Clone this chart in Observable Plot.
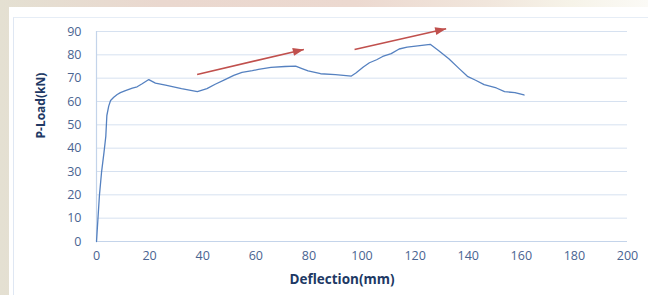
<!DOCTYPE html>
<html>
<head>
<meta charset="utf-8">
<script src="https://cdn.jsdelivr.net/npm/d3@7"></script>
<script src="https://cdn.jsdelivr.net/npm/@observablehq/plot@0.6"></script>
<style>
  html, body { margin: 0; padding: 0; }
  body { width: 648px; height: 295px; overflow: hidden; position: relative;
    background: linear-gradient(90deg, #e4e0d2 0%, #ead8cf 25%, #ecd9d0 55%, #f1e6dc 75%, #f6f3e8 88%, #fbfaf6 100%); }
  #panel { position: absolute; left: 9px; top: 7px; right: 0; bottom: 0; background: #ffffff; }
  #inner { position: absolute; left: 13px; top: 17px; right: 0; bottom: 0; border-left: 1px solid #dfe7f3; border-top: 1px solid #e6edf6; }
  #chart { position: absolute; left: 0; top: 0; }
</style>
</head>
<body>
<div id="panel"></div>
<div id="inner"></div>
<div id="chart"></div>
<script>
const deflection = [0,1.1,1.9,2.8,3.5,3.9,4.6,5.3,6.5,7.8,9,10.9,13.5,15.3,17.2,19.7,22.2,26,32,38,41.6,44.7,48.6,51.7,54.8,58.7,61,65.7,71,75,77.4,79.7,84.4,90,96,97.7,100.5,102.8,105.5,107.8,111,114,117,121,125.7,128.8,132.7,136.6,139.7,142.8,146,150.6,153.7,157.6,161];
const load = [0,19.7,29.7,38,45,54,58,60.4,61.8,63,63.8,64.7,65.7,66.3,67.6,69.4,67.9,67,65.5,64.2,65.5,67.4,69.5,71.2,72.5,73.2,73.8,74.6,75,75.2,74.1,73.1,71.9,71.5,70.9,72.2,74.8,76.6,77.9,79.3,80.5,82.5,83.3,83.8,84.5,81.9,78.3,74.1,70.8,69.1,67.2,65.8,64.2,63.8,62.8];
const xTicks = [0,20,40,60,80,100,120,140,160,180,200];
const yTicks = [0,10,20,30,40,50,60,70,80,90];
const arrowX1 = [37.9, 97.2];
const arrowY1 = [71.6, 82.3];
const arrowX2 = [78.1, 131.7];
const arrowY2 = [82.3, 91.2];
const xLabel = "Deflection(mm)";
const yLabel = "P-Load(kN)";

const curve = deflection.map((d, i) => ({x: d, y: load[i]}));
const arrows = arrowX1.map((d, i) => ({x1: d, y1: arrowY1[i], x2: arrowX2[i], y2: arrowY2[i]}));

const chart = Plot.plot({
  width: 648,
  height: 295,
  marginTop: 31,
  marginRight: 21,
  marginBottom: 54,
  marginLeft: 96,
  style: {background: "transparent", fontFamily: "'Open Sans', sans-serif", fontSize: "12.5px", color: "#4a6491"},
  x: {domain: [0, 200]},
  y: {domain: [0, 90]},
  marks: [
    Plot.gridY(yTicks, {stroke: "#d6e1f0", strokeOpacity: 1, strokeWidth: 1}),
    Plot.ruleY([0], {stroke: "#c4d4ea", strokeWidth: 1.2}),
    Plot.ruleX([0], {stroke: "#c4d4ea", strokeWidth: 1.2}),
    Plot.axisX(xTicks, {tickSize: 0, tickPadding: 10, label: null, fontSize: 12.5}),
    Plot.axisY(yTicks, {tickSize: 0, tickPadding: 15, label: null, fontSize: 12.5}),
    Plot.text([xLabel], {frameAnchor: "bottom", dy: 42, dx: -20, fontWeight: "bold", fontSize: 13.5, fill: "#203864"}),
    Plot.text([yLabel], {frameAnchor: "left", dx: -55, dy: 2, rotate: -90, fontWeight: "bold", fontSize: 12, fill: "#203864"}),
    Plot.line(curve, {x: "x", y: "y", stroke: "#5581c0", strokeWidth: 1.3}),
    Plot.link(arrows, {x1: "x1", y1: "y1", x2: "x2", y2: "y2", stroke: "#c0504d", strokeWidth: 1.6, markerEnd: "arrow", clip: false})
  ]
});

// Turn Plot's open arrow marker into a filled triangular head
d3.select(chart).selectAll("marker").each(function() {
  const m = d3.select(this);
  m.attr("markerUnits", "userSpaceOnUse")
    .attr("viewBox", "-12 -5 13 10")
    .attr("markerWidth", 13)
    .attr("markerHeight", 10)
    .attr("stroke", "none")
    .attr("fill", "#c0504d");
  m.selectAll("*").remove();
  m.append("path").attr("d", "M-11,-4L0,0L-11,4Z").attr("fill", "#c0504d").attr("stroke", "none");
});

document.getElementById("chart").appendChild(chart);
</script>
</body>
</html>
